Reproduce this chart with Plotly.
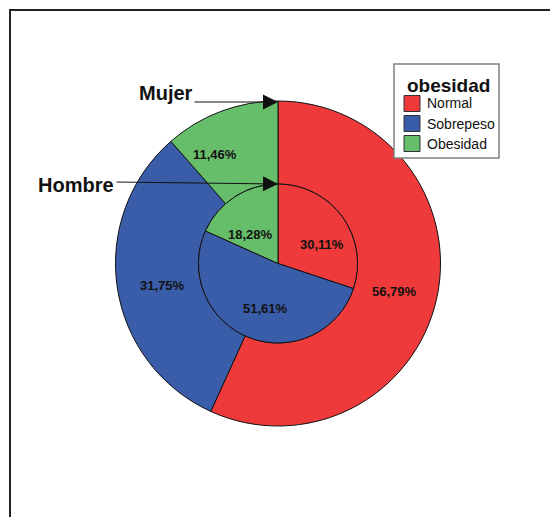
import plotly.graph_objects as go

# Categories and shares (%) for each group
categorias = ["Normal", "Sobrepeso", "Obesidad"]
mujer = [56.79, 31.75, 11.46]
hombre = [30.11, 51.61, 18.28]
colores = ["#EE3A3A", "#3A5DAA", "#67BE6A"]
titulo_leyenda = "obesidad"

W, H = 550, 517
cx, cy = 278, 263.5          # pie centre (px from top-left)
r_out, r_in = 162.5, 79.5    # outer ring and inner pie radii (px)
FONT = "Liberation Sans, Arial, sans-serif"
INK = "#111111"


def px(x, y):
    """Pixel position (from top-left) to paper coordinates."""
    return x / W, 1 - y / H


def dom(r):
    return dict(
        x=[(cx - r) / W, (cx + r) / W],
        y=[(H - cy - r) / H, (H - cy + r) / H],
    )


def fmt(v):
    return f"{v:.2f}".replace(".", ",") + "%"


fig = go.Figure()

# Outer ring: Mujer
fig.add_trace(go.Pie(
    labels=categorias, values=mujer, hole=r_in / r_out,
    sort=False, direction="clockwise", rotation=0,
    marker=dict(colors=colores, line=dict(color=INK, width=1)),
    textinfo="none", hoverinfo="label+percent",
    domain=dom(r_out), showlegend=False,
))

# Inner pie: Hombre
fig.add_trace(go.Pie(
    labels=categorias, values=hombre,
    sort=False, direction="clockwise", rotation=0,
    marker=dict(colors=colores, line=dict(color=INK, width=1)),
    textinfo="none", hoverinfo="label+percent",
    domain=dom(r_in), showlegend=False,
))

annotations = []
shapes = []

# Percentage labels (pixel anchors per slice)
pos_mujer = [(394, 291), (162, 285), (215, 154)]
pos_hombre = [(322, 244), (265, 308), (250, 234)]
for vals, pos in ((mujer, pos_mujer), (hombre, pos_hombre)):
    for v, (x, y) in zip(vals, pos):
        ax_, ay_ = px(x, y)
        annotations.append(dict(
            x=ax_, y=ay_, xref="paper", yref="paper",
            xanchor="center", yanchor="middle",
            text=f"<b>{fmt(v)}</b>", showarrow=False,
            font=dict(family=FONT, size=13, color=INK),
        ))

# Group labels with arrows pointing at each ring
grupos = [("Mujer", (165.5, 93.5), (193, 102), (278, 102)),
          ("Hombre", (76, 184.5), (115, 182), (278, 184))]
for name, (tx, ty), (x0, y0), (x1, y1) in grupos:
    ax_, ay_ = px(tx, ty)
    annotations.append(dict(
        x=ax_, y=ay_, xref="paper", yref="paper",
        xanchor="center", yanchor="middle",
        text=f"<b>{name}</b>", showarrow=False,
        font=dict(family=FONT, size=20, color=INK),
    ))
    hx, hy = px(x1, y1)
    annotations.append(dict(
        x=hx, y=hy, xref="paper", yref="paper",
        ax=x0 - x1, ay=y0 - y1, axref="pixel", ayref="pixel",
        text="", showarrow=True, arrowhead=2, arrowsize=3,
        arrowwidth=1, arrowcolor=INK, standoff=0,
    ))

# Legend box
lx0, ly0, lx1, ly1 = 394, 64, 499, 158
bx0, by0 = px(lx0, ly0)
bx1, by1 = px(lx1, ly1)
shapes.append(dict(type="rect", xref="paper", yref="paper",
                   x0=bx0, x1=bx1, y0=by1, y1=by0,
                   line=dict(color="#808080", width=1.5), fillcolor="white"))
tx_, ty_ = px(405, 85)
annotations.append(dict(
    x=tx_, y=ty_, xref="paper", yref="paper", xanchor="left", yanchor="middle",
    text=f"<b>{titulo_leyenda}</b>", showarrow=False,
    font=dict(family=FONT, size=19, color=INK),
))
for i, (cat, col) in enumerate(zip(categorias, colores)):
    yc = 103.5 + 20 * i
    s0x, s0y = px(404, yc - 8)
    s1x, s1y = px(420, yc + 8)
    shapes.append(dict(type="rect", xref="paper", yref="paper",
                       x0=s0x, x1=s1x, y0=s1y, y1=s0y,
                       line=dict(color="#333333", width=1), fillcolor=col))
    lx_, ly_ = px(425, yc)
    annotations.append(dict(
        x=lx_, y=ly_, xref="paper", yref="paper", xanchor="left", yanchor="middle",
        text=cat, showarrow=False,
        font=dict(family=FONT, size=14, color=INK),
    ))

# Outer frame
fx0, fy1 = px(10, 10)
shapes.append(dict(
    type="rect", xref="paper", yref="paper",
    x0=fx0, x1=1.05, y0=-0.05, y1=fy1,
    line=dict(color="#222222", width=2), fillcolor="rgba(0,0,0,0)",
))

fig.update_layout(
    width=W, height=H,
    margin=dict(l=0, r=0, t=0, b=0),
    paper_bgcolor="white", plot_bgcolor="white",
    annotations=annotations,
    shapes=shapes,
    showlegend=False,
)

fig.write_html("out.html")
